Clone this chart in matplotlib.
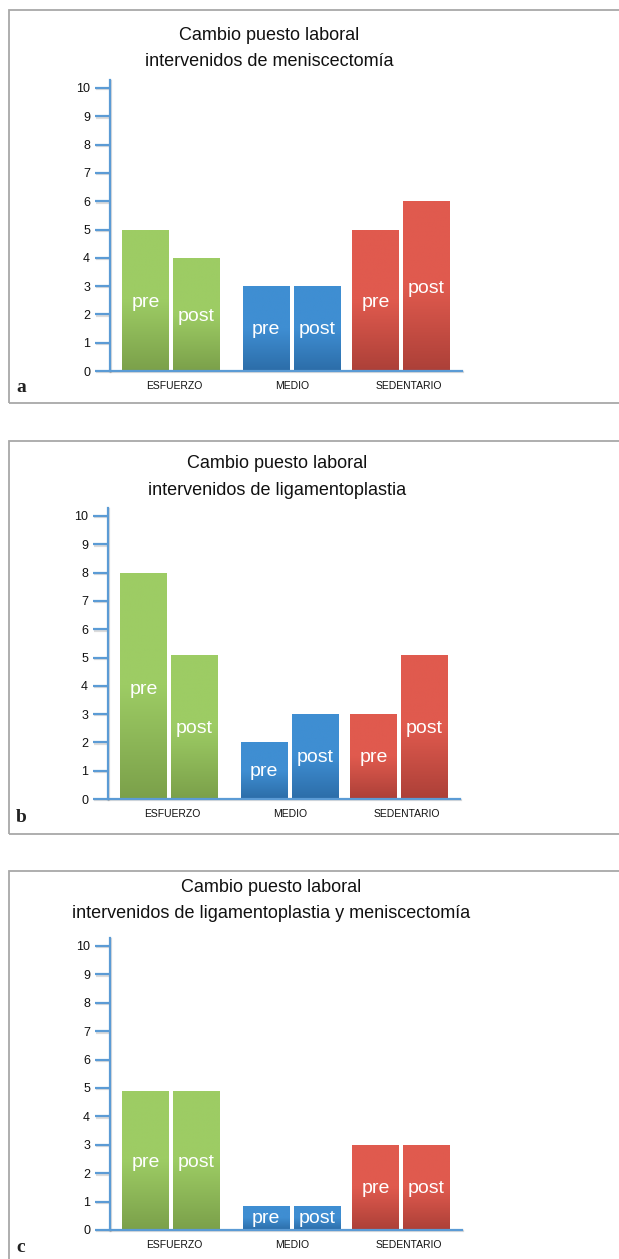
import matplotlib
matplotlib.use("Agg")
import matplotlib.pyplot as plt
import matplotlib.patheffects as pe
import numpy as np
from matplotlib.colors import LinearSegmentedColormap
from matplotlib.patches import Rectangle

# ---------------- data ----------------
categories = ["ESFUERZO", "MEDIO", "SEDENTARIO"]
series_labels = ["pre", "post"]
yticks = [0, 1, 2, 3, 4, 5, 6, 7, 8, 9, 10]
title_line1 = "Cambio puesto laboral"
subtitles = ["intervenidos de meniscectomía",
             "intervenidos de ligamentoplastia",
             "intervenidos de ligamentoplastia y meniscectomía"]
panel_letters = ["a", "b", "c"]

pre_a = [5, 3, 5]
post_a = [4, 3, 6]
pre_b = [8, 2, 3]
post_b = [5.1, 3, 5.1]
pre_c = [4.9, 0.85, 3]
post_c = [4.9, 0.85, 3]

panels_pre = [pre_a, pre_b, pre_c]
panels_post = [post_a, post_b, post_c]

# ---------------- style / layout ----------------
W, H = 619, 1259
group_pos = [0.0, 1.05, 2.0]
label_pos = [0.03, 1.05, 2.07]
bar_w = 0.408
bar_off = 0.221
top_colors = ["#9DCC64", "#3F8ED2", "#E05A4E"]
bot_colors = ["#7BA04A", "#2C6DA8", "#AC4038"]
axis_blue = "#5B9BD5"

# per-panel pixel layout: ax_left, ax_right, y0, y10, box_top, box_bottom,
# title y1, title y2, title x, letter y
layout = [
    (110, 462, 371, 88, 10, 403, 35, 62, 269, 387),
    (108, 460, 799, 516, 441, 834, 463, 490, 277, 817),
    (110, 462, 1230, 946, 871, 1265, 887, 913, 271, 1247),
]

plt.rcParams["font.family"] = ["Liberation Sans", "DejaVu Sans"]

fig = plt.figure(figsize=(W / 100, H / 100), dpi=100)
fig.patch.set_facecolor("white")


def fx(x):
    return x / W


def fy(y):
    return 1 - y / H


for k in range(3):
    (axl, axr, y0, y10, btop, bbot, ty1, ty2, tx, ly) = layout[k]
    unit = (y0 - y10) / 10.0
    ytop_lim = 10.28
    ytop_px = y0 - ytop_lim * unit

    # panel frame
    fig.add_artist(Rectangle((fx(9), fy(bbot)), fx(700), (bbot - btop) / H,
                             transform=fig.transFigure, fill=False,
                             edgecolor="#A8A8A8", lw=1.3, clip_on=False))

    ax = fig.add_axes([fx(axl), fy(y0), (axr - axl) / W, (y0 - ytop_px) / H])
    ax.set_facecolor("none")

    pre = panels_pre[k]
    post = panels_post[k]
    xs_pre = [g - bar_off for g in group_pos]
    xs_post = [g + bar_off for g in group_pos]
    bars_pre = ax.bar(xs_pre, pre, width=bar_w, color="none", edgecolor="none", zorder=2)
    bars_post = ax.bar(xs_post, post, width=bar_w, color="none", edgecolor="none", zorder=2)

    for bars, vals, lab in ((bars_pre, pre, series_labels[0]),
                            (bars_post, post, series_labels[1])):
        for i, (p, v) in enumerate(zip(bars.patches, vals)):
            cmap = LinearSegmentedColormap.from_list(
                "g", [(0.0, bot_colors[i]), (0.5, top_colors[i]), (1.0, top_colors[i])])
            grad = np.linspace(1, 0, 256).reshape(-1, 1)
            x0 = p.get_x()
            x1 = x0 + p.get_width()
            im = ax.imshow(grad, extent=[x0, x1, 0, p.get_height()], aspect="auto",
                           cmap=cmap, vmin=0, vmax=1, zorder=2.1,
                           interpolation="bilinear")
            im.set_clip_path(p)
            ax.text(x0 + p.get_width() / 2, 0.485 * v, lab, ha="center", va="center",
                    color="white", fontsize=14, zorder=3)

    ax.set_xlim(-0.529, 2.529)
    ax.set_ylim(0, ytop_lim)
    ax.set_yticks(yticks)
    ax.set_yticklabels([str(t) for t in yticks])
    ax.set_xticks(label_pos)
    ax.set_xticklabels(categories)

    for s in ("top", "right"):
        ax.spines[s].set_visible(False)
    shadow = [pe.SimpleLineShadow(offset=(1.0, -1.0), shadow_color="#888888", alpha=0.3),
              pe.Normal()]
    for s in ("left", "bottom"):
        ax.spines[s].set_color(axis_blue)
        ax.spines[s].set_linewidth(1.6)
        ax.spines[s].set_path_effects(shadow)
        ax.spines[s].set_zorder(2.5)

    ax.tick_params(axis="y", length=10.8, width=1.6, color=axis_blue,
                   labelsize=9, pad=3.6, labelcolor="#111111")
    ax.tick_params(axis="x", length=0, labelsize=7.5, pad=7, labelcolor="#111111")
    for t in ax.yaxis.get_ticklines():
        t.set_path_effects(shadow)

    # titles
    fig.text(fx(tx), fy(ty1), title_line1, ha="center", va="center",
             fontsize=13, color="#111111")
    fig.text(fx(tx), fy(ty2), subtitles[k], ha="center", va="center",
             fontsize=13, color="#111111")
    # panel letter
    fig.text(fx(21), fy(ly), panel_letters[k], ha="center", va="center",
             fontsize=14, fontweight="bold", family=["Liberation Serif", "DejaVu Serif"],
             color="#222222")

fig.savefig("out.png", dpi=100, facecolor="white")
